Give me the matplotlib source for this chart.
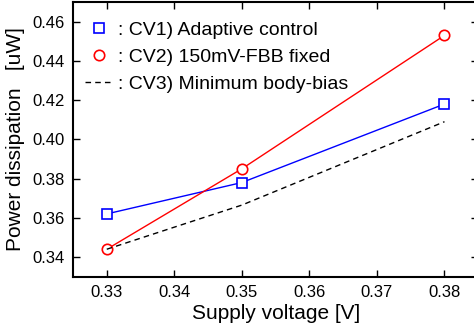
import matplotlib.pyplot as plt
from matplotlib.lines import Line2D

plt.rcParams['font.family'] = ['Liberation Sans', 'DejaVu Sans']

# Data
voltage = [0.33, 0.35, 0.38]
cv1_adaptive = [0.362, 0.378, 0.418]
cv2_fbb_fixed = [0.344, 0.385, 0.453]
cv3_min_bias = [0.344, 0.3665, 0.409]

x_ticks = [0.33, 0.34, 0.35, 0.36, 0.37, 0.38]
y_ticks = [0.34, 0.36, 0.38, 0.40, 0.42, 0.44, 0.46]

fig = plt.figure(figsize=(4.74, 3.30), dpi=100)
ax = fig.add_axes([0.154, 0.1615, 0.855, 0.8324])

ax.plot(voltage, cv1_adaptive, color='blue', lw=1, marker='s', ms=7,
        mfc='white', mec='blue', mew=1.2)
ax.plot(voltage, cv2_fbb_fixed, color='red', lw=1, marker='o', ms=7.5,
        mfc='white', mec='red', mew=1.2)
ax.plot(voltage, cv3_min_bias, color='black', lw=1, dashes=(4, 3))

ax.set_xlim(0.325, 0.385)
ax.set_ylim(0.33, 0.47)
ax.set_xticks(x_ticks)
ax.set_xticklabels([f"{v:.2f}" for v in x_ticks])
ax.set_yticks(y_ticks)
ax.set_yticklabels([f"{v:.2f}" for v in y_ticks])
ax.tick_params(direction='in', length=5, width=1, labelsize=12,
               top=True, right=True, pad=6)
for s in ax.spines.values():
    s.set_linewidth(1.5)

ax.set_xlabel("Supply voltage [V]", fontsize=15, labelpad=3)
ax.set_ylabel("Power dissipation   [uW]", fontsize=15, labelpad=5)

handles = [
    Line2D([], [], ls='none', marker='s', ms=7, mfc='white', mec='blue', mew=1.2),
    Line2D([], [], ls='none', marker='o', ms=7.5, mfc='white', mec='red', mew=1.2),
    Line2D([], [], color='black', lw=1, dashes=(4, 3)),
]
labels = [": CV1) Adaptive control", ": CV2) 150mV-FBB fixed",
          ": CV3) Minimum body-bias"]
ax.legend(handles, labels, loc='upper left', bbox_to_anchor=(0.0, 0.972),
          frameon=False, fontsize=14, handlelength=1.5, handletextpad=0.2,
          labelspacing=0.49, borderaxespad=0.2)

fig.savefig("out.png", dpi=100)
